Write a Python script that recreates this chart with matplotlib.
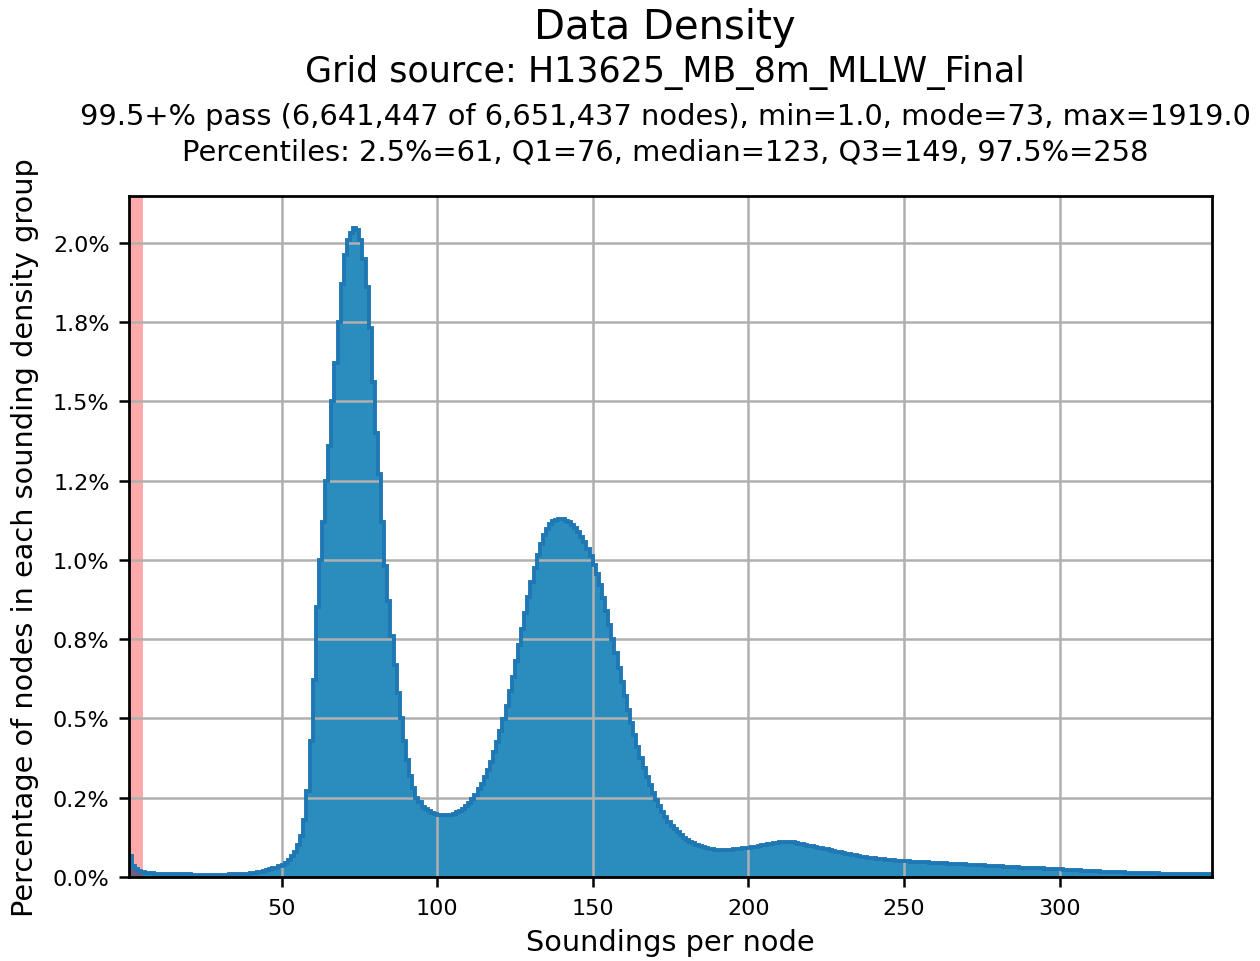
"""
Data density histogram: percentage of grid nodes per soundings-per-node count.
"""
import numpy as np
import matplotlib
matplotlib.use("Agg")
import matplotlib.pyplot as plt
from matplotlib.ticker import MultipleLocator, FuncFormatter

# --- data (percent of nodes for soundings = 1 .. 348) ---
first_count = 1

pct_sparse = [  # 1 - 50
    0.065, 0.035, 0.024, 0.019, 0.016, 0.014, 0.013, 0.012, 0.011, 0.010,
    0.010, 0.009, 0.009, 0.009, 0.008, 0.008, 0.008, 0.008, 0.008, 0.008,
    0.007, 0.007, 0.007, 0.007, 0.007, 0.007, 0.007, 0.007, 0.007, 0.007,
    0.007, 0.007, 0.008, 0.008, 0.008, 0.009, 0.009, 0.010, 0.011, 0.012,
    0.013, 0.015, 0.017, 0.019, 0.021, 0.024, 0.027, 0.030, 0.034, 0.039,
]
pct_peak1 = [  # 51 - 100
    0.045, 0.053, 0.065, 0.080, 0.100, 0.130, 0.180, 0.270, 0.430, 0.620,
    0.850, 1.000, 1.120, 1.250, 1.360, 1.500, 1.620, 1.750, 1.870, 1.960,
    2.010, 2.030, 2.045, 2.040, 2.010, 1.950, 1.860, 1.730, 1.560, 1.400,
    1.270, 1.120, 0.980, 0.870, 0.760, 0.670, 0.580, 0.500, 0.430, 0.370,
    0.320, 0.280, 0.250, 0.235, 0.222, 0.213, 0.207, 0.202, 0.199, 0.197,
]
pct_peak2 = [  # 101 - 180
    0.196, 0.195, 0.195, 0.197, 0.200, 0.204, 0.209, 0.216, 0.224, 0.234,
    0.246, 0.260, 0.276, 0.294, 0.315, 0.338, 0.364, 0.393, 0.425, 0.460,
    0.498, 0.540, 0.585, 0.632, 0.682, 0.732, 0.782, 0.832, 0.882, 0.930,
    0.975, 1.015, 1.050, 1.078, 1.098, 1.112, 1.121, 1.126, 1.128, 1.128,
    1.124, 1.118, 1.110, 1.100, 1.088, 1.073, 1.055, 1.035, 1.012, 0.985,
    0.955, 0.920, 0.880, 0.838, 0.795, 0.750, 0.705, 0.660, 0.615, 0.570,
    0.527, 0.486, 0.447, 0.410, 0.376, 0.344, 0.315, 0.289, 0.265, 0.243,
    0.223, 0.205, 0.189, 0.175, 0.162, 0.151, 0.141, 0.132, 0.124, 0.117,
]
pct_tail = [  # 181 - 348
    0.111, 0.106, 0.101, 0.097, 0.094, 0.091, 0.089, 0.087, 0.086, 0.085,
    0.085, 0.085, 0.085, 0.086, 0.087, 0.088, 0.089, 0.090, 0.091, 0.092,
    0.094, 0.096, 0.098, 0.100, 0.102, 0.103, 0.105, 0.106, 0.108, 0.109,
    0.110, 0.111, 0.110, 0.109, 0.107, 0.105, 0.103, 0.101, 0.099, 0.097,
    0.095, 0.093, 0.091, 0.089, 0.087, 0.085, 0.082, 0.080, 0.078, 0.076,
    0.074, 0.072, 0.070, 0.068, 0.066, 0.064, 0.063, 0.061, 0.060, 0.059,
    0.058, 0.057, 0.056, 0.055, 0.054, 0.053, 0.052, 0.051, 0.050, 0.049,
    0.049, 0.048, 0.048, 0.047, 0.047, 0.046, 0.046, 0.045, 0.045, 0.044,
    0.044, 0.043, 0.043, 0.042, 0.042, 0.041, 0.041, 0.040, 0.040, 0.039,
    0.039, 0.038, 0.038, 0.037, 0.037, 0.036, 0.036, 0.035, 0.035, 0.034,
    0.034, 0.033, 0.033, 0.032, 0.032, 0.031, 0.030, 0.030, 0.029, 0.029,
    0.028, 0.028, 0.027, 0.027, 0.026, 0.026, 0.025, 0.025, 0.024, 0.024,
    0.023, 0.023, 0.022, 0.022, 0.021, 0.021, 0.020, 0.020, 0.019, 0.019,
    0.018, 0.018, 0.017, 0.017, 0.016, 0.016, 0.016, 0.015, 0.015, 0.015,
    0.014, 0.014, 0.014, 0.013, 0.013, 0.013, 0.013, 0.012, 0.012, 0.012,
    0.012, 0.011, 0.011, 0.011, 0.011, 0.011, 0.010, 0.010, 0.010, 0.010,
    0.010, 0.010, 0.009, 0.009, 0.009, 0.009, 0.009, 0.009,
]

flagged_max = 5.5  # low-density counts shaded in red

title_lines = [
    "Data Density",
    "Grid source: H13625_MB_8m_MLLW_Final",
    "99.5+% pass (6,641,447 of 6,651,437 nodes), min=1.0, mode=73, max=1919.0",
    "Percentiles: 2.5%=61, Q1=76, median=123, Q3=149, 97.5%=258",
]

pct = np.array(pct_sparse + pct_peak1 + pct_peak2 + pct_tail)
edges = np.arange(first_count, first_count + len(pct) + 1)

fig = plt.figure(figsize=(12.6, 9.62), dpi=100)
ax = fig.add_axes([0.1024, 0.0873, 0.8595, 0.7079])

fill_col = "#2b8cbe"
edge_col = "#1f77b4"
ax.stairs(pct, edges, fill=True, color=fill_col, zorder=1)
ax.stairs(pct, edges, fill=False, color=edge_col, linewidth=2.8, zorder=2)
ax.axvspan(edges[0], flagged_max, color="red", alpha=0.33, lw=0, zorder=1.2)

ax.set_xlim(edges[0], edges[-1])
ax.set_ylim(0, pct.max() * 1.05)
ax.xaxis.set_major_locator(MultipleLocator(50))
ax.yaxis.set_major_locator(MultipleLocator(0.25))
ax.yaxis.set_major_formatter(FuncFormatter(lambda v, _: f"{v:.1f}%"))

ax.grid(True, color="#b0b0b0", linewidth=1.8)
ax.tick_params(length=7.5, width=1.8)
ax.tick_params(axis="x", labelsize=16, pad=7.5)
ax.tick_params(axis="y", labelsize=16, pad=6.5)
for s in ax.spines.values():
    s.set_linewidth(2.0)

ax.set_xlabel("Soundings per node", fontsize=20.7, labelpad=7)
ax.set_ylabel("Percentage of nodes in each sounding density group", fontsize=20.7)
ax.yaxis.set_label_coords(-0.083, 0.5)

xc = 665 / 1260
fig.text(xc, 1 - 28 / 962, title_lines[0], ha="center", va="center", fontsize=29)
fig.text(xc, 1 - 73 / 962, title_lines[1], ha="center", va="center", fontsize=25.1)
fig.text(xc, 1 - 117 / 962, title_lines[2], ha="center", va="center", fontsize=20.8)
fig.text(xc, 1 - 153 / 962, title_lines[3], ha="center", va="center", fontsize=20.8)

fig.savefig("out.png", dpi=100)
